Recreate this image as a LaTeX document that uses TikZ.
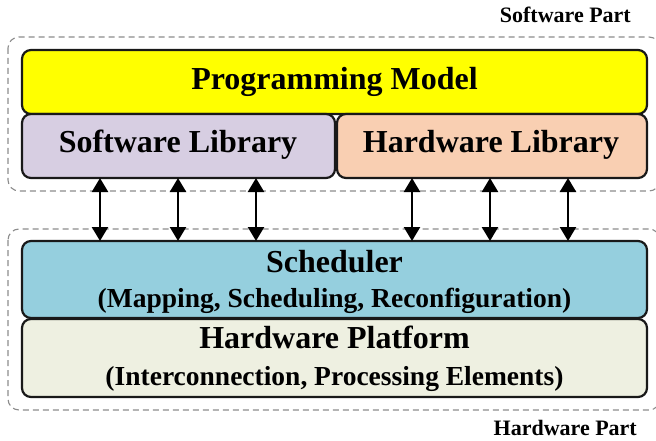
\documentclass[tikz,border=0pt]{standalone}
\usepackage{fontspec}
\setmainfont{Liberation Serif}
\usetikzlibrary{arrows.meta}
\definecolor{pmyellow}{HTML}{FFFF00}
\definecolor{swlib}{HTML}{D7CEE2}
\definecolor{hwlib}{HTML}{F9CFB2}
\definecolor{sched}{HTML}{95CFDE}
\definecolor{platf}{HTML}{EEF0E1}
\definecolor{dashgray}{HTML}{8C8C8C}
\tikzset{
  layer/.style={draw=black!90, line width=2.2pt, rounded corners=9pt, inner sep=0pt, outer sep=0pt},
  part/.style={draw=dashgray, line width=1.1pt, dash pattern=on 6pt off 4pt, rounded corners=11pt},
  title/.style={font=\fontsize{32}{32}\selectfont\bfseries, anchor=base, inner sep=0pt},
  subtitle/.style={font=\fontsize{27.5}{27.5}\selectfont\bfseries, anchor=base, inner sep=0pt},
  partlabel/.style={font=\fontsize{22}{22}\selectfont\bfseries, anchor=base east, inner sep=0pt},
  link/.style={line width=2.4pt, {Triangle[width=16pt,length=14pt]}-{Triangle[width=16pt,length=14pt]}}
}
\begin{document}
\begin{tikzpicture}[x=1pt,y=-1pt]
\useasboundingbox (0,0) rectangle (656,441);

% dashed frames of the two parts
\draw[part] (8,37) rectangle (660,191);
\draw[part] (8,229) rectangle (660,410);
\node[partlabel] (swpart) at (631,23) {Software Part};
\node[partlabel] (hwpart) at (637,435) {Hardware Part};

% software layers
\node[layer, fill=pmyellow, minimum width=625, minimum height=64] (pmbox) at (334.5,82) {};
\node[layer, fill=swlib, minimum width=313, minimum height=64] (slbox) at (178.5,146) {};
\node[layer, fill=hwlib, minimum width=310, minimum height=64] (hlbox) at (492,146) {};
\node[title] (pm) at (334.5,90) {Programming Model};
\node[title] (sl) at (178,153) {Software Library};
\node[title] (hl) at (491,153) {Hardware Library};

% hardware layers
\node[layer, fill=sched, minimum width=625, minimum height=77] (scbox) at (334.5,279.5) {};
\node[layer, fill=platf, minimum width=625, minimum height=78] (hpbox) at (334.5,358) {};
\node[title] (sc) at (334.5,272) {Scheduler};
\node[subtitle] (scsub) at (334.5,307) {(Mapping, Scheduling, Reconfiguration)};
\node[title] (hp) at (334.5,348) {Hardware Platform};
\node[subtitle] (hpsub) at (334.5,385) {(Interconnection, Processing Elements)};

% links between the libraries and the scheduler
\foreach \i/\x/\lib in {1/100/slbox,2/178/slbox,3/256/slbox,4/412/hlbox,5/490/hlbox,6/568/hlbox}{
  \coordinate (c\i) at (\x,0);
  \draw[link] (c\i |- \lib.south) -- (c\i |- scbox.north);
}
\end{tikzpicture}
\end{document}
